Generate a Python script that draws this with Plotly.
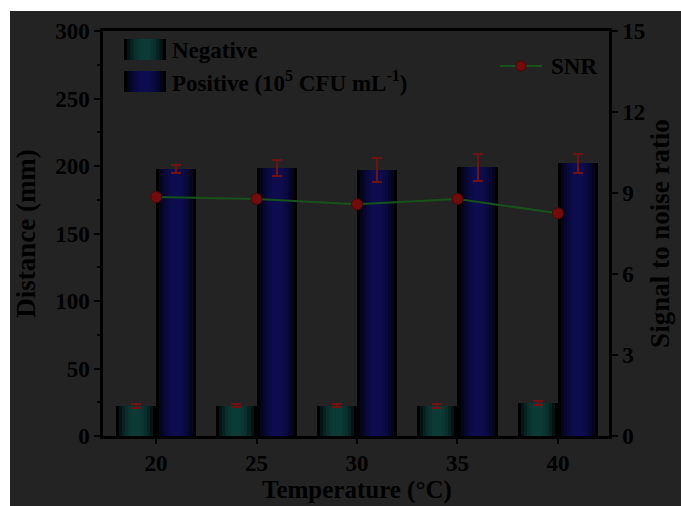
import plotly.graph_objects as go

# ---- data ----
temperature = [20, 25, 30, 35, 40]
negative = [22.2, 22.5, 22.5, 22.0, 24.2]
negative_err = [1.5, 1.0, 1.2, 1.5, 1.5]
positive = [197.5, 198.5, 197.0, 199.0, 202.0]
positive_err = [3.0, 6.0, 9.0, 10.0, 7.0]
snr = [8.85, 8.78, 8.58, 8.78, 8.25]
x_ticks = [20, 25, 30, 35, 40]
y_ticks = [0, 50, 100, 150, 200, 250, 300]
y2_ticks = [0, 3, 6, 9, 12, 15]

FONT = "Liberation Serif, Times New Roman, serif"
BG = "#232323"
NEG_CENTER = (12, 58, 54)
POS_CENTER = (12, 12, 78)
ERR = "#6e1212"

W, H = 681, 506
L, R, T, B = 103, 72, 31, 70
PW, PH = W - L - R, H - T - B

# gradient layers (outer dark -> inner light)
fracs = [1.0, 0.85, 0.7, 0.55, 0.4, 0.25]
levels = [0.0, 0.35, 0.6, 0.8, 0.92, 1.0]


def mix(c, t):
    return "rgb(%d,%d,%d)" % tuple(int(v * t) for v in c)


def px(xp):
    return (xp - L) / PW


def py(yp):
    return (H - B - yp) / PH


fig = go.Figure()
neg_x = [t - 1 for t in temperature]
pos_x = [t + 1 for t in temperature]
for i, (f, lv) in enumerate(zip(fracs, levels)):
    last = i == len(fracs) - 1
    fig.add_trace(go.Bar(
        x=neg_x, y=negative, width=[2 * f] * len(neg_x),
        marker=dict(color=mix(NEG_CENTER, lv), line=dict(width=0)),
        showlegend=False, name="Negative",
        error_y=dict(type="data", array=negative_err, color=ERR, thickness=2, width=5) if last else None,
    ))
    fig.add_trace(go.Bar(
        x=pos_x, y=positive, width=[2 * f] * len(pos_x),
        marker=dict(color=mix(POS_CENTER, lv), line=dict(width=0)),
        showlegend=False, name="Positive",
        error_y=dict(type="data", array=positive_err, color=ERR, thickness=2, width=5) if last else None,
    ))

fig.add_trace(go.Scatter(
    x=temperature, y=snr, yaxis="y2", mode="lines+markers", name="SNR",
    line=dict(color="#17521a", width=2),
    marker=dict(color="#720c0c", size=11, line=dict(color="#4a0606", width=1)),
    showlegend=False,
))

shapes = [
    dict(type="rect", xref="paper", yref="paper", x0=px(10), x1=px(W), y0=py(H), y1=py(11),
         fillcolor=BG, line=dict(width=0), layer="below"),
]


def patch(x0, x1, y0, y1, center):
    out = []
    w = x1 - x0
    xc = (x0 + x1) / 2
    for f, lv in zip(fracs, levels):
        out.append(dict(type="rect", xref="paper", yref="paper",
                        x0=xc - w * f / 2, x1=xc + w * f / 2, y0=y0, y1=y1,
                        fillcolor=mix(center, lv), line=dict(width=0), layer="above"))
    return out


shapes += patch(px(124), px(166), py(60), py(39), NEG_CENTER)
shapes += patch(px(124), px(166), py(92), py(71), POS_CENTER)
shapes.append(dict(type="line", xref="paper", yref="paper", x0=px(500), x1=px(542), y0=py(66), y1=py(66),
                   line=dict(color="#17521a", width=2)))
shapes.append(dict(type="circle", xref="paper", yref="paper", x0=px(516), x1=px(526), y0=py(71), y1=py(61),
                   fillcolor="#720c0c", line=dict(color="#4a0606", width=1)))

annotations = [
    dict(text="<b>Negative</b>", xref="paper", yref="paper", x=px(170), y=py(50), xanchor="left", yanchor="middle",
         showarrow=False, font=dict(family=FONT, size=23, color="black")),
    dict(text="<b>Positive (10<sup>5</sup> CFU mL<sup>-1</sup>)</b>", xref="paper", yref="paper", x=px(170), y=py(82),
         xanchor="left", yanchor="middle", showarrow=False, font=dict(family=FONT, size=23, color="black")),
    dict(text="<b>SNR</b>", xref="paper", yref="paper", x=px(549), y=py(66), xanchor="left", yanchor="middle",
         showarrow=False, font=dict(family=FONT, size=23, color="black")),
    # x-axis title (placed as annotation so it stays inside the page)
    dict(text="<b>Temperature (°C)</b>", xref="paper", yref="paper", x=px(357), y=py(505),
         xanchor="center", yanchor="bottom", showarrow=False, borderpad=0,
         font=dict(family=FONT, size=25, color="black")),
]

axis_common = dict(showline=True, linecolor="black", linewidth=2.5, ticks="outside", tickcolor="black",
                   tickwidth=2, showgrid=False, zeroline=False,
                   tickfont=dict(family=FONT, size=23, color="black", weight="bold"))

fig.update_layout(
    width=W, height=H,
    margin=dict(l=L, r=R, t=T, b=B),
    paper_bgcolor="white", plot_bgcolor="rgba(0,0,0,0)",
    barmode="overlay", bargap=0,
    showlegend=False,
    shapes=shapes, annotations=annotations,
    xaxis=dict(range=[17.36, 42.54], tickvals=x_ticks, ticklen=5, mirror=True,
               **axis_common),
    yaxis=dict(range=[0, 300], tickvals=y_ticks, ticklen=6,
               minor=dict(dtick=25, ticklen=3, tickwidth=2, tickcolor="black", ticks="outside"),
               title=dict(text="<b>Distance (mm)</b>", font=dict(family=FONT, size=27, color="black"), standoff=12),
               **axis_common),
    yaxis2=dict(range=[0, 15], tickvals=y2_ticks, ticklen=6, overlaying="y", side="right",
                title=dict(text="<b>Signal to noise ratio</b>", font=dict(family=FONT, size=27, color="black"), standoff=3),
                **axis_common),
)

fig.write_html("out.html")
